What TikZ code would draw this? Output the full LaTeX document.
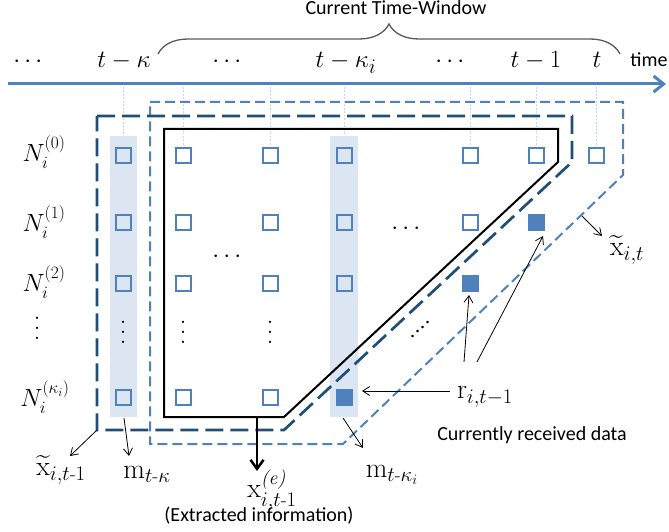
\documentclass[tikz,border=0pt]{standalone}
\usepackage{amsmath}
\usepackage{fontspec}
\newfontfamily\sansf{Carlito}
\usetikzlibrary{decorations.pathreplacing,arrows.meta}
\definecolor{lblue}{HTML}{4F81BD}
\definecolor{dblue}{HTML}{1F4E79}
\definecolor{shadec}{HTML}{DCE6F2}
\definecolor{tickc}{HTML}{C9D7EA}
\definecolor{bracec}{HTML}{595959}
\newcommand\myvdots{\vbox{\baselineskip=0.36em\lineskiplimit=0pt\hbox{.}\hbox{.}\hbox{.}}}
\begin{document}
\begin{tikzpicture}[x=1pt,y=-1pt,
  sq/.style={draw=lblue,line width=2pt,minimum size=15pt,inner sep=0pt},
  sqf/.style={sq,fill=lblue},
  big/.style={font=\fontsize{28}{32}\selectfont,inner sep=0pt,anchor=base},
  rowlab/.style={font=\fontsize{26}{30}\selectfont,inner sep=0pt},
  lab/.style={font=\fontsize{28}{30}\selectfont,inner sep=0pt},
  gdots/.style={font=\fontsize{24}{28}\selectfont,inner sep=0pt,anchor=base},
  vd/.style={font=\fontsize{28}{30}\selectfont,inner sep=0pt},
  sans/.style={font=\fontsize{20}{22}\selectfont\sansf,inner sep=0pt},
  tickline/.style={draw=tickc,line width=0.8pt,dash pattern=on 2pt off 1.5pt},
  darkdash/.style={draw=dblue,line width=2.7pt,dash pattern=on 18pt off 7pt},
  lightdash/.style={draw=lblue,line width=2pt,dash pattern=on 10pt off 5pt},
  solidpoly/.style={draw=black,line width=2pt,line join=miter},
  pointer/.style={draw=black,line width=0.8pt,-{Straight Barb[length=7pt,width=9pt]}},
]
\useasboundingbox (0,0) rectangle (669,532);

% ticks
\foreach \x in {123,183,270,344,470,536,596}
  \draw[tickline] (\x,87) -- (\x,146);

% shaded columns
\fill[shadec] (110,136) rectangle (137,417);
\fill[shadec] (330,136) rectangle (358,417);

% axis
\coordinate (axL) at (8,84);
\coordinate (axR) at (666,84);
\draw[lblue,line width=3pt,-{Straight Barb[length=10pt,width=16pt]}] (axL) -- (axR);
\node[sans,anchor=base] (timelab) at (649,67) {time};

% axis labels
\node[big,font=\fontsize{30}{32}\selectfont] (a1) at (30,68) {$\cdots$};
\node[big] (a2) at (124,68) {$t-\kappa$};
\node[big,font=\fontsize{30}{32}\selectfont] (a3) at (229,68) {$\cdots$};
\node[big] (a4) at (346,68) {$t-\kappa_i$};
\node[big,font=\fontsize{30}{32}\selectfont] (a5) at (452,68) {$\cdots$};
\node[big] (a6) at (536,68) {$t-1$};
\node[big] (a7) at (597,68) {$t$};

% brace
\coordinate (brL) at (158,54);
\coordinate (brR) at (620,54);
\draw[bracec,line width=1.3pt,decorate,decoration={brace,amplitude=30pt}] (brL) -- (brR);
\node[sans] (ctw) at (396,8) {Current Time-Window};

% polygons
\draw[lightdash] (150,102) -- (623,102) -- (623,175) -- (343,444) -- (150,444) -- cycle;
\draw[darkdash] (97,116) -- (572,116) -- (572,162) -- (284,430) -- (97,430) -- cycle;
\draw[solidpoly] (164,129) -- (558,129) -- (558,162) -- (284,417) -- (164,417) -- cycle;

% row labels
\node[rowlab] (n0) at (44,152) {$N_i^{(0)}$};
\node[rowlab] (n1) at (44,222) {$N_i^{(1)}$};
\node[rowlab] (n2) at (44,282) {$N_i^{(2)}$};
\node[rowlab] (nk) at (45,397) {$N_i^{(\kappa_i)}$};
\node[vd] (nd) at (37,328) {\myvdots};

% squares row 0
\foreach \x [count=\i] in {123,183,270,344,470,536,596}
  \node[sq] (s0\i) at (\x,155) {};
% row 1
\foreach \x [count=\i] in {123,183,270,344,470}
  \node[sq] (s1\i) at (\x,222) {};
\node[sqf] (s16) at (536,222) {};
% row 2
\foreach \x [count=\i] in {123,183,270,344}
  \node[sq] (s2\i) at (\x,283) {};
\node[sqf] (s25) at (470,283) {};
% row kappa
\foreach \x [count=\i] in {123,183,270}
  \node[sq] (sk\i) at (\x,397) {};
\node[sqf] (sk4) at (344,397) {};

% dots in grid
\node[vd] (v1) at (123,332) {\myvdots};
\node[vd] (v2) at (183,332) {\myvdots};
\node[vd] (v3) at (270,332) {\myvdots};
\node[gdots] (h1) at (229,262) {$\cdots$};
\node[gdots] (h2) at (408,234) {$\cdots$};
\node[font=\fontsize{24}{26}\selectfont,inner sep=0pt,rotate=41] (dd) at (421,330) {$\cdotp\!\cdotp\!\cdotp\!\cdotp$};

% labels
\node[lab] (lxt) at (627,250) {$\widetilde{\mathrm{x}}_{i,t}$};
\node[lab] (lxt1) at (61,470) {$\widetilde{\mathrm{x}}_{i,t\text{-}1}$};
\node[lab] (lmk) at (147,474) {$\mathrm{m}_{t\text{-}\kappa}$};
\node[lab] (lmki) at (392,475) {$\mathrm{m}_{t\text{-}\kappa_i}$};
\node[lab] (lr) at (485,397) {$\mathrm{r}_{i,t-1}$};
\node[lab] (lxe) at (272,490) {$\mathrm{x}^{\textit{(e)}}_{i,t\text{-}1}$};
\node[sans] (lext) at (259,516) {(Extracted information)};
\node[sans] (lcur) at (532,435) {Currently received data};

% pointer arrows
\coordinate (pxtA) at (582,216); \coordinate (pxtB) at (602,236);
\draw[pointer] (pxtA) -- (pxtB);
\coordinate (pxt1A) at (97,430); \coordinate (pxt1B) at (70,456);
\draw[pointer] (pxt1A) -- (pxt1B);
\coordinate (pmkA) at (124,418); \coordinate (pmkB) at (129,456);
\draw[pointer] (pmkA) -- (pmkB);
\coordinate (pmkiA) at (343,418); \coordinate (pmkiB) at (363,448);
\draw[pointer] (pmkiA) -- (pmkiB);
\coordinate (pr1A) at (450,391); \coordinate (pr1B) at (362,391);
\draw[pointer] (pr1A) -- (pr1B);
\coordinate (pr2A) at (464,362); \coordinate (pr2B) at (469,295);
\draw[pointer] (pr2A) -- (pr2B);
\coordinate (pr3A) at (477,362); \coordinate (pr3B) at (543,236);
\draw[pointer] (pr3A) -- (pr3B);
\coordinate (pxeA) at (257,417); \coordinate (pxeB) at (257,471);
\draw[black,line width=2.5pt,-{Straight Barb[length=9pt,width=13pt]}] (pxeA) -- (pxeB);
\end{tikzpicture}
\end{document}
